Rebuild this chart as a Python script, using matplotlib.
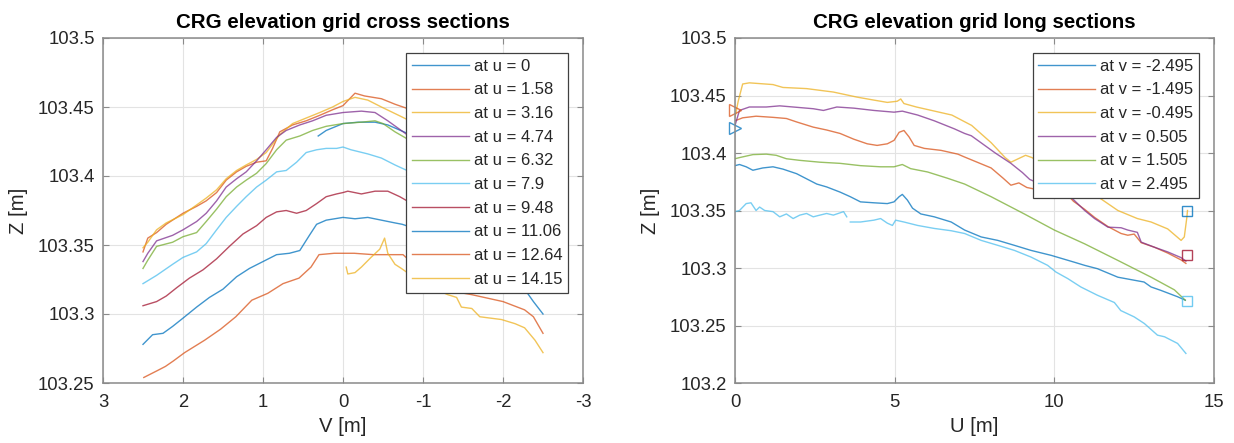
import numpy as np
import matplotlib
matplotlib.use("Agg")
import matplotlib.pyplot as plt
from matplotlib.ticker import FuncFormatter

plt.rcParams['font.family'] = ['Liberation Sans', 'DejaVu Sans']
plt.rcParams['axes.unicode_minus'] = False

# MATLAB default line colours
C_BLUE = '#0072BD'
C_ORANGE = '#D95319'
C_YELLOW = '#EDB120'
C_PURPLE = '#7E2F8E'
C_GREEN = '#77AC30'
C_CYAN = '#4DBEEE'
C_DRED = '#A2142F'

# ---------------- cross sections (z over v at fixed u) ----------------
cross_labels = ['at u = 0', 'at u = 1.58', 'at u = 3.16', 'at u = 4.74', 'at u = 6.32',
                'at u = 7.9', 'at u = 9.48', 'at u = 11.06', 'at u = 12.64', 'at u = 14.15']
cross_colors = [C_BLUE, C_ORANGE, C_YELLOW, C_PURPLE, C_GREEN,
                C_CYAN, C_DRED, C_BLUE, C_ORANGE, C_YELLOW]

v_u000 = [0.31, 0.21, 0.0, -0.19, -0.4, -0.56, -0.8]
z_u000 = [103.429, 103.433, 103.438, 103.439, 103.439, 103.437, 103.431]

v_u158 = [2.5, 2.44, 2.33, 2.21, 2.0, 1.83, 1.71, 1.58, 1.46, 1.33, 1.21, 1.08, 0.96, 0.88,
          0.79, 0.63, 0.46, 0.29, 0.13, 0.0, -0.15, -0.27, -0.48, -0.65, -0.8]
z_u158 = [103.345, 103.355, 103.359, 103.365, 103.373, 103.378, 103.382, 103.388, 103.397,
          103.403, 103.407, 103.410, 103.411, 103.420, 103.432, 103.437, 103.440, 103.444,
          103.448, 103.451, 103.460, 103.458, 103.456, 103.452, 103.449]

v_u316 = [2.5, 2.44, 2.33, 2.21, 2.0, 1.83, 1.71, 1.58, 1.46, 1.33, 1.21, 1.08, 0.96, 0.79,
          0.63, 0.46, 0.29, 0.13, 0.0, -0.15, -0.31, -0.48, -0.73, -0.8]
z_u316 = [103.348, 103.352, 103.361, 103.366, 103.372, 103.379, 103.384, 103.390, 103.398,
          103.404, 103.408, 103.412, 103.417, 103.430, 103.438, 103.442, 103.446, 103.450,
          103.454, 103.457, 103.455, 103.450, 103.443, 103.441]

v_u474 = [2.5, 2.44, 2.33, 2.13, 2.0, 1.83, 1.71, 1.58, 1.46, 1.33, 1.21, 1.08, 0.96, 0.83,
          0.71, 0.54, 0.38, 0.21, 0.0, -0.23, -0.4, -0.56, -0.8]
z_u474 = [103.338, 103.344, 103.353, 103.357, 103.361, 103.367, 103.373, 103.382, 103.392,
          103.398, 103.403, 103.411, 103.419, 103.428, 103.433, 103.437, 103.440, 103.444,
          103.446, 103.447, 103.446, 103.440, 103.430]

v_u632 = [2.5, 2.44, 2.33, 2.13, 2.0, 1.83, 1.71, 1.58, 1.46, 1.33, 1.21, 1.08, 0.96, 0.83,
          0.71, 0.54, 0.38, 0.21, 0.0, -0.23, -0.4, -0.5, -0.65, -0.8]
z_u632 = [103.333, 103.339, 103.349, 103.352, 103.356, 103.359, 103.367, 103.376, 103.385,
          103.392, 103.397, 103.402, 103.409, 103.419, 103.426, 103.429, 103.433, 103.436,
          103.438, 103.439, 103.440, 103.438, 103.432, 103.427]

v_u790 = [2.5, 2.33, 2.13, 2.0, 1.83, 1.71, 1.58, 1.46, 1.33, 1.21, 1.08, 0.96, 0.83, 0.71,
          0.58, 0.46, 0.33, 0.21, 0.08, 0.0, -0.1, -0.31, -0.48, -0.65, -0.8]
z_u790 = [103.322, 103.328, 103.336, 103.341, 103.345, 103.351, 103.361, 103.370, 103.378,
          103.385, 103.392, 103.397, 103.403, 103.404, 103.410, 103.417, 103.419, 103.420,
          103.420, 103.421, 103.419, 103.416, 103.413, 103.408, 103.404]

v_u948 = [2.5, 2.33, 2.21, 2.08, 1.92, 1.75, 1.58, 1.42, 1.25, 1.08, 0.96, 0.83, 0.71, 0.58,
          0.46, 0.33, 0.21, 0.08, 0.0, -0.06, -0.23, -0.4, -0.56, -0.71, -0.8]
z_u948 = [103.306, 103.309, 103.313, 103.319, 103.326, 103.332, 103.340, 103.349, 103.358,
          103.364, 103.370, 103.374, 103.375, 103.373, 103.375, 103.380, 103.385, 103.387,
          103.388, 103.389, 103.387, 103.389, 103.389, 103.385, 103.382]

v_u1106 = [2.5, 2.38, 2.25, 2.13, 2.0, 1.83, 1.67, 1.5, 1.33, 1.17, 1.0, 0.83, 0.67, 0.54,
           0.42, 0.33, 0.21, 0.0, -0.15, -0.31, -0.48, -0.65, -0.74, -1.0, -1.5, -2.0,
           -2.27, -2.38, -2.5]
z_u1106 = [103.278, 103.285, 103.286, 103.291, 103.297, 103.305, 103.312, 103.318, 103.327,
           103.333, 103.338, 103.343, 103.344, 103.346, 103.357, 103.365, 103.368, 103.370,
           103.369, 103.370, 103.368, 103.366, 103.365, 103.360, 103.346, 103.331, 103.318,
           103.309, 103.300]

v_u1264 = [2.49, 2.32, 2.22, 2.12, 1.98, 1.73, 1.53, 1.34, 1.14, 0.94, 0.75, 0.55, 0.40,
           0.30, 0.11, -0.14, -0.38, -0.75, -1.0, -1.22, -1.61, -2.0, -2.27, -2.38, -2.5]
z_u1264 = [103.254, 103.259, 103.262, 103.266, 103.272, 103.281, 103.289, 103.298, 103.310,
           103.315, 103.322, 103.326, 103.334, 103.343, 103.344, 103.344, 103.343, 103.343,
           103.330, 103.318, 103.314, 103.309, 103.303, 103.298, 103.286]

v_u1415 = [-0.04, -0.06, -0.15, -0.23, -0.35, -0.46, -0.52, -0.56, -0.65, -0.73, -1.0,
           -1.31, -1.42, -1.48, -1.61, -1.71, -1.98, -2.15, -2.27, -2.4, -2.5]
z_u1415 = [103.334, 103.329, 103.330, 103.334, 103.341, 103.347, 103.355, 103.344, 103.336,
           103.333, 103.322, 103.314, 103.312, 103.305, 103.304, 103.298, 103.296, 103.293,
           103.290, 103.281, 103.272]

cross_v = [v_u000, v_u158, v_u316, v_u474, v_u632, v_u790, v_u948, v_u1106, v_u1264, v_u1415]
cross_z = [z_u000, z_u158, z_u316, z_u474, z_u632, z_u790, z_u948, z_u1106, z_u1264, z_u1415]

# ---------------- long sections (z over u at fixed v) ----------------
long_labels = ['at v = -2.495', 'at v = -1.495', 'at v = -0.495',
               'at v = 0.505', 'at v = 1.505', 'at v = 2.495']
long_colors = [C_BLUE, C_ORANGE, C_YELLOW, C_PURPLE, C_GREEN, C_CYAN]

u_vm2495 = [0.0, 0.14, 0.35, 0.56, 0.87, 1.19, 1.5, 1.93, 2.14, 2.56, 2.87, 3.29, 3.61, 3.93,
            4.35, 4.77, 4.98, 5.14, 5.24, 5.4, 5.56, 5.82, 6.24, 6.77, 7.19, 7.71, 8.23, 8.75,
            9.27, 9.9, 10.63, 10.95, 11.35, 11.99, 12.81, 13.03, 13.33, 13.86, 14.1]
z_vm2495 = [103.389, 103.390, 103.388, 103.385, 103.387, 103.388, 103.386, 103.382, 103.379,
            103.373, 103.3705, 103.366, 103.362, 103.3575, 103.3567, 103.356, 103.3575,
            103.362, 103.364, 103.359, 103.352, 103.347, 103.3445, 103.340, 103.333, 103.327,
            103.324, 103.3197, 103.3153, 103.311, 103.305, 103.3023, 103.2994, 103.292,
            103.2878, 103.2835, 103.2806, 103.275, 103.272]

u_vm1495 = [0.0, 0.24, 0.66, 1.19, 1.61, 1.93, 2.45, 2.87, 3.29, 3.72, 4.14, 4.45, 4.77, 4.98,
            5.14, 5.29, 5.45, 5.61, 5.93, 6.45, 6.98, 7.19, 8.02, 8.4, 8.64, 8.89, 9.14, 9.5,
            10.0, 10.5, 10.6, 10.95, 11.26, 11.68, 12.09, 12.3, 12.5, 12.72, 13.14, 13.55,
            13.97, 14.12]
z_vm1495 = [103.428, 103.4306, 103.432, 103.431, 103.430, 103.427, 103.4225, 103.420, 103.417,
            103.412, 103.408, 103.4066, 103.408, 103.411, 103.418, 103.4196, 103.414,
            103.4066, 103.404, 103.4023, 103.399, 103.3965, 103.387, 103.378, 103.372,
            103.374, 103.370, 103.368, 103.365, 103.361, 103.358, 103.351, 103.344, 103.336,
            103.330, 103.3285, 103.3295, 103.322, 103.318, 103.313, 103.307, 103.304]

u_vm0495 = [0.0, 0.1, 0.24, 0.45, 1.19, 1.5, 2.24, 3.08, 3.82, 4.35, 4.77, 5.08, 5.19, 5.29,
            5.68, 6.79, 7.41, 8.02, 8.46, 8.64, 9.1, 9.3, 10.3, 11.36, 11.99, 12.6, 13.03,
            13.55, 13.97, 14.07, 14.15, 14.17]
z_vm0495 = [103.431, 103.445, 103.460, 103.461, 103.4595, 103.457, 103.456, 103.453, 103.4486,
            103.446, 103.444, 103.445, 103.447, 103.443, 103.440, 103.433, 103.424, 103.409,
            103.396, 103.392, 103.398, 103.396, 103.380, 103.362, 103.350, 103.343, 103.340,
            103.334, 103.324, 103.327, 103.344, 103.350]

u_vp0505 = [0.0, 0.14, 0.45, 0.98, 1.4, 1.82, 2.45, 2.77, 3.19, 3.72, 4.35, 4.98, 5.24, 5.72,
            6.24, 6.87, 7.19, 7.4, 8.15, 8.64, 9.0, 9.23, 10.0, 10.58, 10.95, 11.26, 11.68,
            12.09, 12.3, 12.6, 12.72, 13.14, 13.55, 13.97, 14.12]
z_vp0505 = [103.424, 103.437, 103.440, 103.440, 103.441, 103.440, 103.4385, 103.437, 103.440,
            103.439, 103.437, 103.4355, 103.4364, 103.433, 103.428, 103.421, 103.417, 103.415,
            103.400, 103.391, 103.383, 103.377, 103.368, 103.360, 103.350, 103.343, 103.3355,
            103.335, 103.333, 103.331, 103.3225, 103.318, 103.314, 103.309, 103.306]

u_vp1505 = [0.0, 0.14, 0.56, 0.98, 1.29, 1.61, 2.03, 2.66, 3.29, 3.93, 4.56, 4.98, 5.24, 5.5,
            6.03, 6.66, 7.19, 8.02, 9.06, 10.0, 10.95, 11.99, 13.03, 13.76, 14.1]
z_vp1505 = [103.395, 103.396, 103.3986, 103.399, 103.398, 103.395, 103.3936, 103.392, 103.391,
            103.389, 103.388, 103.388, 103.390, 103.3864, 103.3835, 103.378, 103.373, 103.362,
            103.347, 103.333, 103.321, 103.3066, 103.292, 103.281, 103.272]

u_vp2495 = [0.0, 0.14, 0.35, 0.5, 0.66, 0.77, 0.93, 1.19, 1.4, 1.61, 1.82, 2.03, 2.24, 2.45,
            2.66, 2.87, 3.08, 3.4, 3.5, 3.55, 3.61, 3.93, 4.35, 4.56, 4.77, 4.93, 5.03, 5.29,
            5.72, 6.24, 6.77, 7.19, 7.71, 8.23, 8.75, 9.27, 9.79, 10.05, 10.42, 10.83, 11.35,
            11.88, 12.08, 12.5, 12.82, 13.23, 13.45, 13.86, 14.12]
z_vp2495 = [103.349, 103.350, 103.356, 103.3567, 103.350, 103.353, 103.350, 103.349, 103.3445,
            103.347, 103.343, 103.346, 103.3474, 103.3445, 103.346, 103.3474, 103.346, 103.349,
            103.3445, np.nan, 103.340, 103.340, 103.3416, 103.343, 103.339, 103.337, 103.3416,
            103.340, 103.337, 103.3344, 103.3324, 103.330, 103.324, 103.3197, 103.3153,
            103.3095, 103.3023, 103.2965, 103.2908, 103.2835, 103.2763, 103.270, 103.263,
            103.2575, 103.2517, 103.2416, 103.2402, 103.2344, 103.2257]

long_u = [u_vm2495, u_vm1495, u_vm0495, u_vp0505, u_vp1505, u_vp2495]
long_z = [z_vm2495, z_vm1495, z_vm0495, z_vp0505, z_vp1505, z_vp2495]

# start / end markers of the reference line
start_u = [0.0, 0.0]
start_z = [103.4376, 103.422]
start_colors = [C_ORANGE, C_BLUE]
end_u = [14.15, 14.15, 14.15]
end_z = [103.350, 103.311, 103.271]
end_colors = [C_BLUE, C_DRED, C_CYAN]

SPINE = '#8a8a8a'
TXT = '#262626'


def style_axes(ax):
    ax.grid(True, color='#e3e3e3', linewidth=0.8)
    ax.set_axisbelow(True)
    for s in ax.spines.values():
        s.set_color(SPINE)
        s.set_linewidth(1.1)
    ax.tick_params(direction='in', length=4, width=0.8, colors=SPINE, labelcolor=TXT,
                   labelsize=13.3, top=True, right=True)
    ax.tick_params(axis='x', pad=8)
    ax.tick_params(axis='y', pad=6)
    ax.yaxis.set_major_formatter(FuncFormatter(lambda v, _: f'{v:g}'))
    ax.xaxis.set_major_formatter(FuncFormatter(lambda v, _: f'{v:g}'))


def add_legend(ax):
    leg = ax.legend(loc='upper right', bbox_to_anchor=(0.969, 0.957), borderaxespad=0,
                    fontsize=12, handlelength=3.4, handletextpad=0.3, labelspacing=0.52,
                    borderpad=0.35, fancybox=False, framealpha=1, edgecolor='#404040')
    leg.get_frame().set_linewidth(0.9)
    for t in leg.get_texts():
        t.set_color(TXT)


fig = plt.figure(figsize=(12.34, 4.43), dpi=100)
ax1 = fig.add_axes([103 / 1234, 60 / 443, 480 / 1234, 345 / 443])
ax2 = fig.add_axes([735 / 1234, 60 / 443, 479 / 1234, 345 / 443])

# left: cross sections
for v, z, c, lab in zip(cross_v, cross_z, cross_colors, cross_labels):
    ax1.plot(v, z, color=c, lw=1.0, alpha=0.75, label=lab)
ax1.set_xlim(3, -3)
ax1.set_ylim(103.25, 103.5)
ax1.set_xticks([3, 2, 1, 0, -1, -2, -3])
ax1.set_yticks([103.25, 103.3, 103.35, 103.4, 103.45, 103.5])
style_axes(ax1)
ax1.set_title('CRG elevation grid cross sections', fontsize=14.8, fontweight='bold', pad=7)
ax1.set_xlabel('V [m]', fontsize=14.6, color=TXT, labelpad=4)
ax1.set_ylabel('Z [m]', fontsize=14.6, color=TXT, labelpad=7)
add_legend(ax1)

# right: long sections
for u, z, c, lab in zip(long_u, long_z, long_colors, long_labels):
    ax2.plot(u, z, color=c, lw=1.0, alpha=0.75, label=lab)
for u, z, c in zip(start_u, start_z, start_colors):
    ax2.plot(u, z, marker='>', ms=8, mfc='none', mec=c, mew=1.0, alpha=0.75, ls='none',
             clip_on=False)
for u, z, c in zip(end_u, end_z, end_colors):
    ax2.plot(u, z, marker='s', ms=7, mfc='none', mec=c, mew=1.0, alpha=0.8, ls='none',
             clip_on=False)
ax2.set_xlim(0, 15)
ax2.set_ylim(103.2, 103.5)
ax2.set_xticks([0, 5, 10, 15])
ax2.set_yticks([103.2, 103.25, 103.3, 103.35, 103.4, 103.45, 103.5])
style_axes(ax2)
ax2.set_title('CRG elevation grid long sections', fontsize=14.8, fontweight='bold', pad=7)
ax2.set_xlabel('U [m]', fontsize=14.6, color=TXT, labelpad=4)
ax2.set_ylabel('Z [m]', fontsize=14.6, color=TXT, labelpad=7)
add_legend(ax2)

fig.savefig('out.png', dpi=100)
